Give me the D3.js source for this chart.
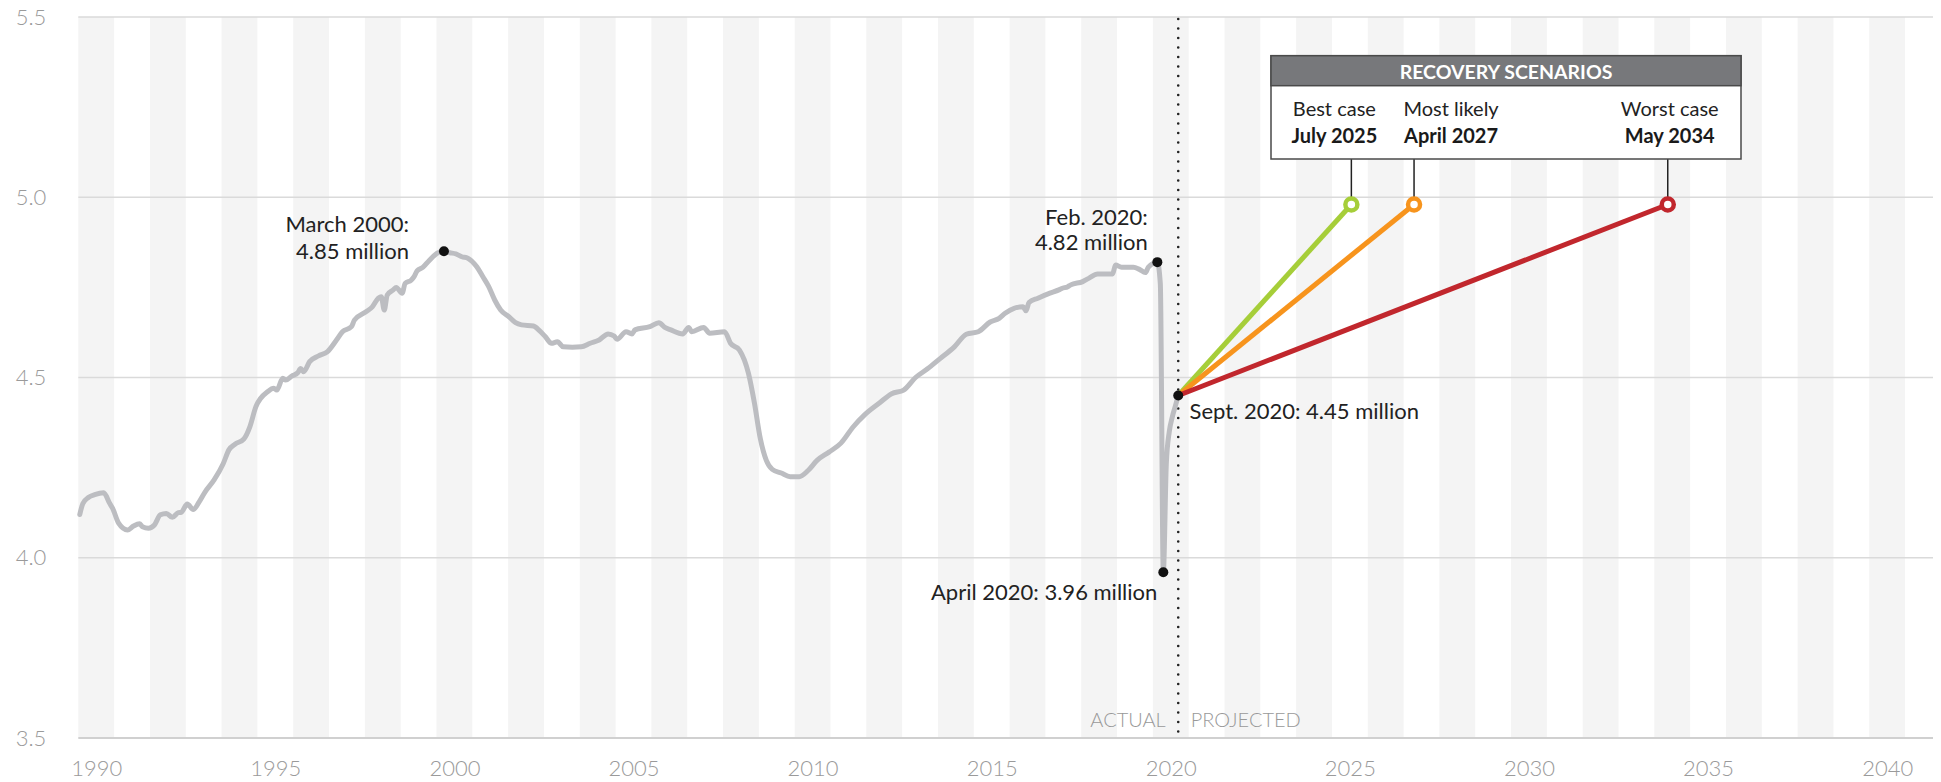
<!DOCTYPE html>
<html>
<head>
<meta charset="utf-8">
<script src="https://cdn.jsdelivr.net/npm/d3@7"></script>
<style>
  body { margin: 0; background: #fff; }
  text { font-family: Lato, "Open Sans", sans-serif; }
</style>
</head>
<body>
<div id="chart"></div>
<script>
// Monthly jobs (millions)
const months = [
  "1990-01","1990-02","1990-04","1990-06","1990-09","1990-11","1990-12",
  "1991-02","1991-05","1991-07","1991-09","1991-10","1991-12",
  "1992-02","1992-04","1992-06","1992-08","1992-10","1992-11",
  "1993-01","1993-03","1993-05","1993-07","1993-10",
  "1994-01","1994-03","1994-05","1994-08","1994-10","1994-12",
  "1995-04","1995-06","1995-07","1995-09","1995-10","1995-12",
  "1996-02","1996-03","1996-04","1996-06","1996-09","1996-12",
  "1997-03","1997-05","1997-08","1997-09",
  "1998-01","1998-03","1998-05","1998-06","1998-07","1998-08","1998-10","1998-11",
  "1999-01","1999-02","1999-04","1999-05","1999-06","1999-08","1999-10",
  "2000-01","2000-03","2000-05","2000-07","2000-09","2000-11",
  "2001-02","2001-04","2001-06","2001-08","2001-10",
  "2002-01","2002-03","2002-05","2002-09","2002-11",
  "2003-01","2003-03","2003-05","2003-07","2003-10",
  "2004-01","2004-04","2004-07","2004-10","2004-12",
  "2005-01","2005-04","2005-06","2005-07","2005-12",
  "2006-03","2006-05","2006-07","2006-11",
  "2007-01","2007-02","2007-06","2007-08",
  "2008-01","2008-03","2008-06","2008-09","2008-11",
  "2009-01","2009-03","2009-05","2009-08","2009-11",
  "2010-02","2010-05","2010-08","2010-12",
  "2011-04","2011-08","2011-12",
  "2012-05","2012-09",
  "2013-01","2013-05","2013-09",
  "2014-01","2014-06","2014-10",
  "2015-02","2015-06","2015-09","2015-11",
  "2016-02","2016-05","2016-06","2016-07","2016-10",
  "2017-02","2017-05","2017-06","2017-08","2017-09",
  "2018-01","2018-03","2018-06","2018-11","2018-12",
  "2019-02","2019-06","2019-08","2019-10","2019-11",
  "2020-02","2020-03","2020-04","2020-05","2020-06","2020-07","2020-08","2020-09"
];
const jobs = [
  4.12,4.15,4.168,4.175,4.18,4.151,4.137,
  4.096,4.077,4.088,4.094,4.086,4.082,
  4.091,4.119,4.123,4.112,4.125,4.126,
  4.149,4.134,4.155,4.183,4.216,
  4.26,4.30,4.315,4.33,4.364,4.419,
  4.461,4.47,4.465,4.498,4.493,4.504,
  4.513,4.525,4.516,4.544,4.56,4.572,
  4.604,4.627,4.641,4.659,
  4.683,4.696,4.72,4.724,4.687,4.729,4.743,4.75,
  4.734,4.761,4.77,4.78,4.796,4.806,4.824,
  4.846,4.85,4.846,4.843,4.835,4.831,
  4.807,4.78,4.752,4.715,4.687,
  4.667,4.652,4.646,4.643,4.63,
  4.613,4.595,4.599,4.585,4.584,
  4.585,4.595,4.604,4.621,4.615,
  4.606,4.627,4.621,4.632,4.641,
  4.652,4.639,4.632,4.621,
  4.639,4.627,4.639,4.623,
  4.627,4.595,4.576,4.512,4.43,
  4.33,4.27,4.245,4.235,4.225,
  4.225,4.242,4.27,4.293,
  4.318,4.362,4.397,
  4.43,4.455,
  4.465,4.5,4.524,
  4.551,4.585,4.62,
  4.627,4.654,4.664,4.678,
  4.692,4.696,4.685,4.708,4.72,
  4.734,4.743,4.747,4.752,4.757,
  4.766,4.775,4.787,4.787,4.812,
  4.806,4.806,4.8,4.791,4.806,
  4.82,4.76,3.96,4.26,4.35,4.39,4.42,4.45
];

const highlightMonths = ["2000-03", "2020-02", "2020-04", "2020-09"];
const highlightLabels = [
  ["March 2000:", "4.85 million"],
  ["Feb. 2020:", "4.82 million"],
  ["April 2020: 3.96 million"],
  ["Sept. 2020: 4.45 million"]
];

const scenarioNames = ["Best case", "Most likely", "Worst case"];
const scenarioDates = ["July 2025", "April 2027", "May 2034"];
const scenarioMonths = ["2025-07", "2027-04", "2034-05"];
const scenarioTarget = 4.98;
const scenarioColors = ["#a6ce39", "#f7941d", "#c1272d"];

const yTicks = [3.5, 4.0, 4.5, 5.0, 5.5];
const xTicks = [1990, 1995, 2000, 2005, 2010, 2015, 2020, 2025, 2030, 2035, 2040];

const width = 1941, height = 782;
const plotLeft = 78.3, plotRight = 1933, plotTop = 17, plotBottom = 738;

// month string -> decimal year at mid-month
const dec = m => { const [yr, mo] = m.split("-").map(Number); return yr + (mo - 1) / 12 + 1 / 24; };

const x = d3.scaleLinear().domain([1990, 2041.78]).range([plotLeft, plotRight]);
const y = d3.scaleLinear().domain([3.5, 5.5]).range([plotBottom, plotTop]);

const data = months.map((m, i) => ({ t: dec(m), v: jobs[i] }));
const last = data[data.length - 1];

const svg = d3.select("#chart").append("svg")
    .attr("width", width)
    .attr("height", height);

// year stripes
svg.append("g")
  .selectAll("rect")
  .data(d3.range(1990, 2041, 2))
  .join("rect")
    .attr("x", d => x(d))
    .attr("width", d => x(d + 1) - x(d))
    .attr("y", plotTop)
    .attr("height", plotBottom - plotTop)
    .attr("fill", "#f4f4f4");

// gridlines
svg.append("g")
  .selectAll("line")
  .data(yTicks)
  .join("line")
    .attr("x1", plotLeft).attr("x2", plotRight)
    .attr("y1", d => y(d)).attr("y2", d => y(d))
    .attr("stroke", d => d === 3.5 ? "#d0d0d0" : "#dadada")
    .attr("stroke-width", d => d === 3.5 ? 2 : 1.3);

// axes
const yAxis = svg.append("g")
    .attr("transform", `translate(${plotLeft},0)`)
    .call(d3.axisLeft(y).tickValues(yTicks).tickFormat(d3.format(".1f")).tickSize(0).tickPadding(32));
const xAxis = svg.append("g")
    .attr("transform", `translate(0,${plotBottom})`)
    .call(d3.axisBottom(x).tickValues(xTicks.map(d => d + 0.5)).tickFormat(d => Math.floor(d)).tickSize(0).tickPadding(22));
[yAxis, xAxis].forEach(g => {
  g.select(".domain").remove();
  g.selectAll("text")
    .attr("fill", "#9a9a9a")
    .style("font-size", "22px")
    .style("font-weight", 300);
});

// actual / projected divider
const xs = x(last.t);
svg.append("line")
    .attr("x1", xs).attr("x2", xs)
    .attr("y1", plotTop + 2).attr("y2", plotBottom)
    .attr("stroke", "#222")
    .attr("stroke-width", 2.6)
    .attr("stroke-linecap", "round")
    .attr("stroke-dasharray", "0 9.5");

svg.append("text")
    .attr("x", xs - 12.5).attr("y", 727)
    .attr("text-anchor", "end")
    .attr("fill", "#999")
    .style("font-size", "20px").style("font-weight", 300)
    .text("ACTUAL");
svg.append("text")
    .attr("x", xs + 12.5).attr("y", 727)
    .attr("fill", "#999")
    .style("font-size", "20px").style("font-weight", 300)
    .text("PROJECTED");

// actual line
const line = d3.line()
    .x(d => x(d.t))
    .y(d => y(d.v))
    .curve(d3.curveMonotoneX);

svg.append("path")
    .datum(data)
    .attr("fill", "none")
    .attr("stroke", "#bcbdc1")
    .attr("stroke-width", 5)
    .attr("stroke-linejoin", "round")
    .attr("stroke-linecap", "round")
    .attr("d", line);

// scenario lines
const scen = scenarioMonths.map((m, i) => ({
  name: scenarioNames[i], date: scenarioDates[i], t: dec(m), v: scenarioTarget, color: scenarioColors[i]
}));

svg.append("g")
  .selectAll("line")
  .data(scen)
  .join("line")
    .attr("x1", x(last.t)).attr("y1", y(last.v))
    .attr("x2", d => x(d.t)).attr("y2", d => y(d.v))
    .attr("stroke", d => d.color)
    .attr("stroke-width", 5);

// legend box
const boxL = 1271, boxR = 1741, boxT = 55.7, boxB = 159, headB = 85.7;

svg.append("g")
  .selectAll("line")
  .data(scen)
  .join("line")
    .attr("x1", d => x(d.t)).attr("x2", d => x(d.t))
    .attr("y1", boxB).attr("y2", d => y(d.v) - 7)
    .attr("stroke", "#222")
    .attr("stroke-width", 1.5);

svg.append("g")
  .selectAll("circle")
  .data(scen)
  .join("circle")
    .attr("cx", d => x(d.t))
    .attr("cy", d => y(d.v))
    .attr("r", 6)
    .attr("fill", "#fff")
    .attr("stroke", d => d.color)
    .attr("stroke-width", 4.5);

svg.append("rect")
    .attr("x", boxL).attr("y", boxT)
    .attr("width", boxR - boxL).attr("height", boxB - boxT)
    .attr("fill", "#fff")
    .attr("stroke", "#4a4a4a")
    .attr("stroke-width", 1.5);
svg.append("rect")
    .attr("x", boxL).attr("y", boxT)
    .attr("width", boxR - boxL).attr("height", headB - boxT)
    .attr("fill", "#77787b")
    .attr("stroke", "#4a4a4a")
    .attr("stroke-width", 1.5);
svg.append("text")
    .attr("x", (boxL + boxR) / 2).attr("y", 79.3)
    .attr("text-anchor", "middle")
    .attr("fill", "#fff")
    .style("font-size", "19.5px").style("font-weight", 700)
    .text("RECOVERY SCENARIOS");

const labelShift = [-17, 37, 2];
const legend = svg.append("g")
  .selectAll("g")
  .data(scen)
  .join("g")
    .attr("transform", (d, i) => `translate(${x(d.t) + labelShift[i]},0)`);
legend.append("text")
    .attr("y", 116)
    .attr("text-anchor", "middle")
    .attr("fill", "#222")
    .style("font-size", "20px")
    .text(d => d.name);
legend.append("text")
    .attr("y", 142.7)
    .attr("text-anchor", "middle")
    .attr("fill", "#1a1a1a")
    .style("font-size", "20px").style("font-weight", 700)
    .text(d => d.date);

// highlighted points
const hl = highlightMonths.map((m, i) => {
  const d = data[months.indexOf(m)];
  return { t: d.t, v: d.v, lines: highlightLabels[i] };
});
const labelPos = [
  { dx: -35, dy: [-19, 7.3], anchor: "end" },
  { dx: -9.5, dy: [-37.6, -12.3], anchor: "end" },
  { dx: -6, dy: [27.5], anchor: "end" },
  { dx: 11.3, dy: [23], anchor: "start" }
];

svg.append("g")
  .selectAll("circle")
  .data(hl)
  .join("circle")
    .attr("cx", d => x(d.t))
    .attr("cy", d => y(d.v))
    .attr("r", 5)
    .attr("fill", "#111");

hl.forEach((d, i) => {
  const p = labelPos[i];
  const t = svg.append("text")
      .attr("text-anchor", p.anchor)
      .attr("fill", "#222")
      .style("font-size", "22px");
  d.lines.forEach((s, j) => {
    t.append("tspan")
      .attr("x", x(d.t) + p.dx)
      .attr("y", y(d.v) + p.dy[j])
      .text(s);
  });
});
</script>
</body>
</html>
